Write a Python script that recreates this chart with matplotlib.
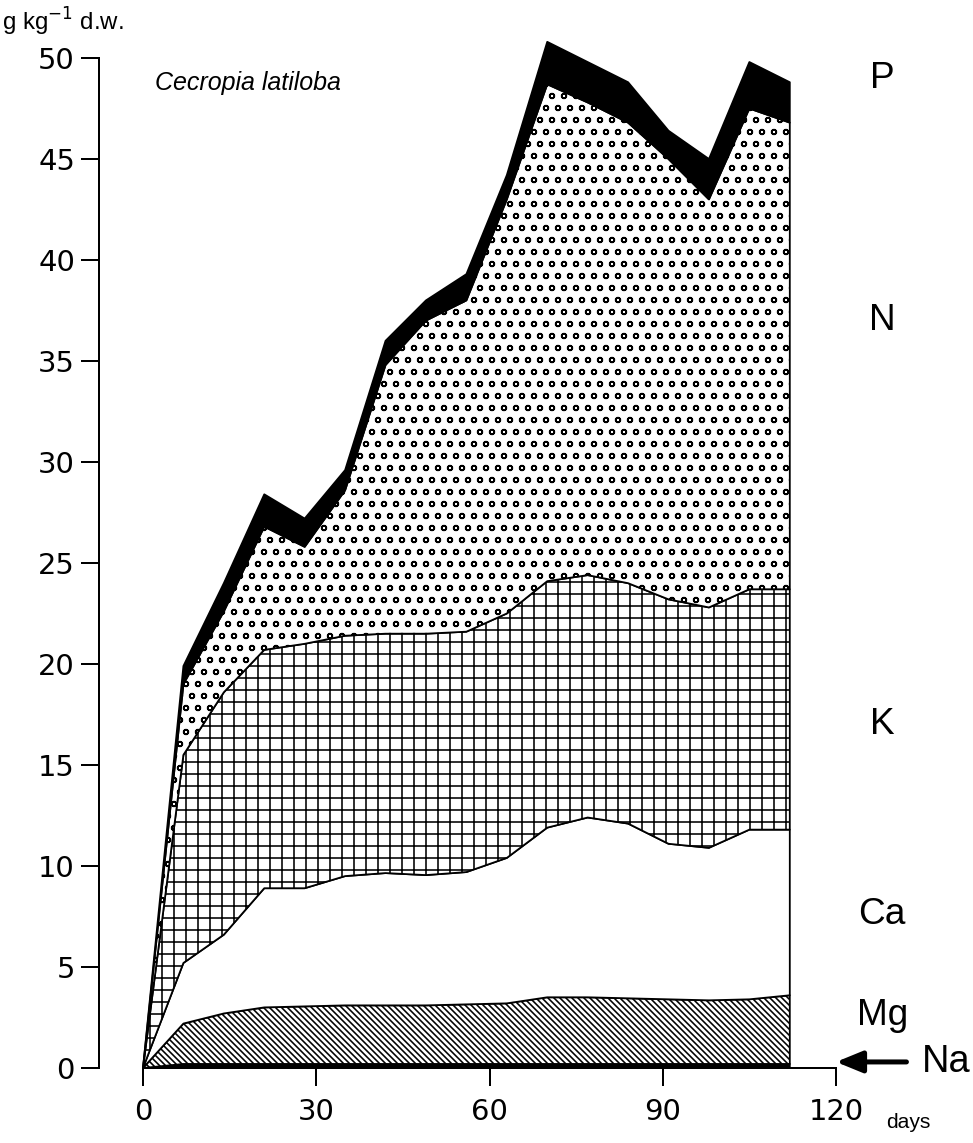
import numpy as np
import matplotlib
matplotlib.use("Agg")
import matplotlib.pyplot as plt

# days after start, sampled weekly
days = [0, 7, 14, 21, 28, 35, 42, 49, 56, 63, 70, 77, 84, 91, 98, 105, 112]

# element concentrations, g kg-1 d.w. (stacked bottom to top)
na = [0, 0.2, 0.2, 0.2, 0.2, 0.2, 0.2, 0.2, 0.2, 0.2, 0.2, 0.2, 0.2, 0.2, 0.2, 0.2, 0.2]
mg = [0, 2.0, 2.5, 2.8, 2.85, 2.9, 2.9, 2.9, 2.95, 3.0, 3.3, 3.3, 3.25, 3.2, 3.15, 3.2, 3.4]
ca = [0, 3.0, 3.9, 5.9, 5.85, 6.4, 6.55, 6.45, 6.55, 7.2, 8.4, 8.9, 8.65, 7.7, 7.55, 8.4, 8.2]
k = [0, 10.3, 12.0, 11.8, 12.1, 11.9, 11.85, 11.95, 11.9, 12.1, 12.2, 12.0, 11.9, 12.1, 11.9, 11.9, 11.9]
n = [0, 3.5, 4.0, 6.1, 4.8, 7.2, 13.3, 15.5, 16.4, 20.5, 24.6, 23.4, 22.8, 21.8, 20.2, 23.8, 23.1]
p = [0, 0.9, 1.4, 1.6, 1.4, 1.0, 1.2, 1.0, 1.3, 1.2, 2.1, 2.0, 2.0, 1.4, 2.0, 2.3, 2.0]

labels = ["P", "N", "K", "Ca", "Mg"]
label_y = [49.0, 37.0, 17.0, 7.6, 2.6]

plt.rcParams["hatch.linewidth"] = 1.6
plt.rcParams["font.family"] = "DejaVu Sans"

fig = plt.figure(figsize=(973 / 72, 1143 / 72), dpi=72)
ax = fig.add_axes([143 / 973, 75 / 1143, 693 / 973, 1010 / 1143])

polys = ax.stackplot(days, na, mg, ca, k, n, p,
                     colors=["black", "white", "white", "white", "white", "black"],
                     hatch=["", "\\\\\\\\", "", "+", "o", ""],
                     edgecolor="black", linewidth=1.8)
for poly in polys:
    poly.set_clip_on(False)

ax.set_xlim(0, 120)
ax.set_ylim(0, 50)
ax.set_xticks([0, 30, 60, 90, 120])
ax.set_yticks(np.arange(0, 51, 5))
ax.tick_params(axis="both", direction="out", length=18, width=2, labelsize=29)
ax.tick_params(axis="y", pad=6)
ax.tick_params(axis="x", pad=12)

for s in ["top", "right"]:
    ax.spines[s].set_visible(False)
ax.spines["left"].set_position(("outward", 44))
ax.spines["left"].set_bounds(0, 50)
ax.spines["bottom"].set_bounds(0, 120)
ax.spines["left"].set_linewidth(2)
ax.spines["bottom"].set_linewidth(2)

sans = "Liberation Sans"
fig.text(2 / 973, 1 - 22 / 1143, "g kg$^{-1}$ d.w.", fontsize=24, family=sans,
         va="center", ha="left")
ax.text(2, 48.75, "Cecropia latiloba", fontsize=25, style="italic", family=sans,
        va="center", ha="left")

for lab, yy in zip(labels, label_y):
    ax.text(128, yy, lab, fontsize=37, family=sans, ha="center", va="center",
            clip_on=False)

ax.text(139, 0.3, "Na", fontsize=38, family=sans, ha="center", va="center",
        clip_on=False)
ax.annotate("", xy=(120, 0.3), xytext=(132.2, 0.3), annotation_clip=False,
            arrowprops=dict(arrowstyle="-|>,head_length=2.2,head_width=0.9",
                            color="black", lw=5, shrinkA=0, shrinkB=0))
ax.text(132.5, -2.7, "days", fontsize=21, family=sans, ha="center", va="center",
        clip_on=False)

fig.savefig("out.png", dpi=72)
